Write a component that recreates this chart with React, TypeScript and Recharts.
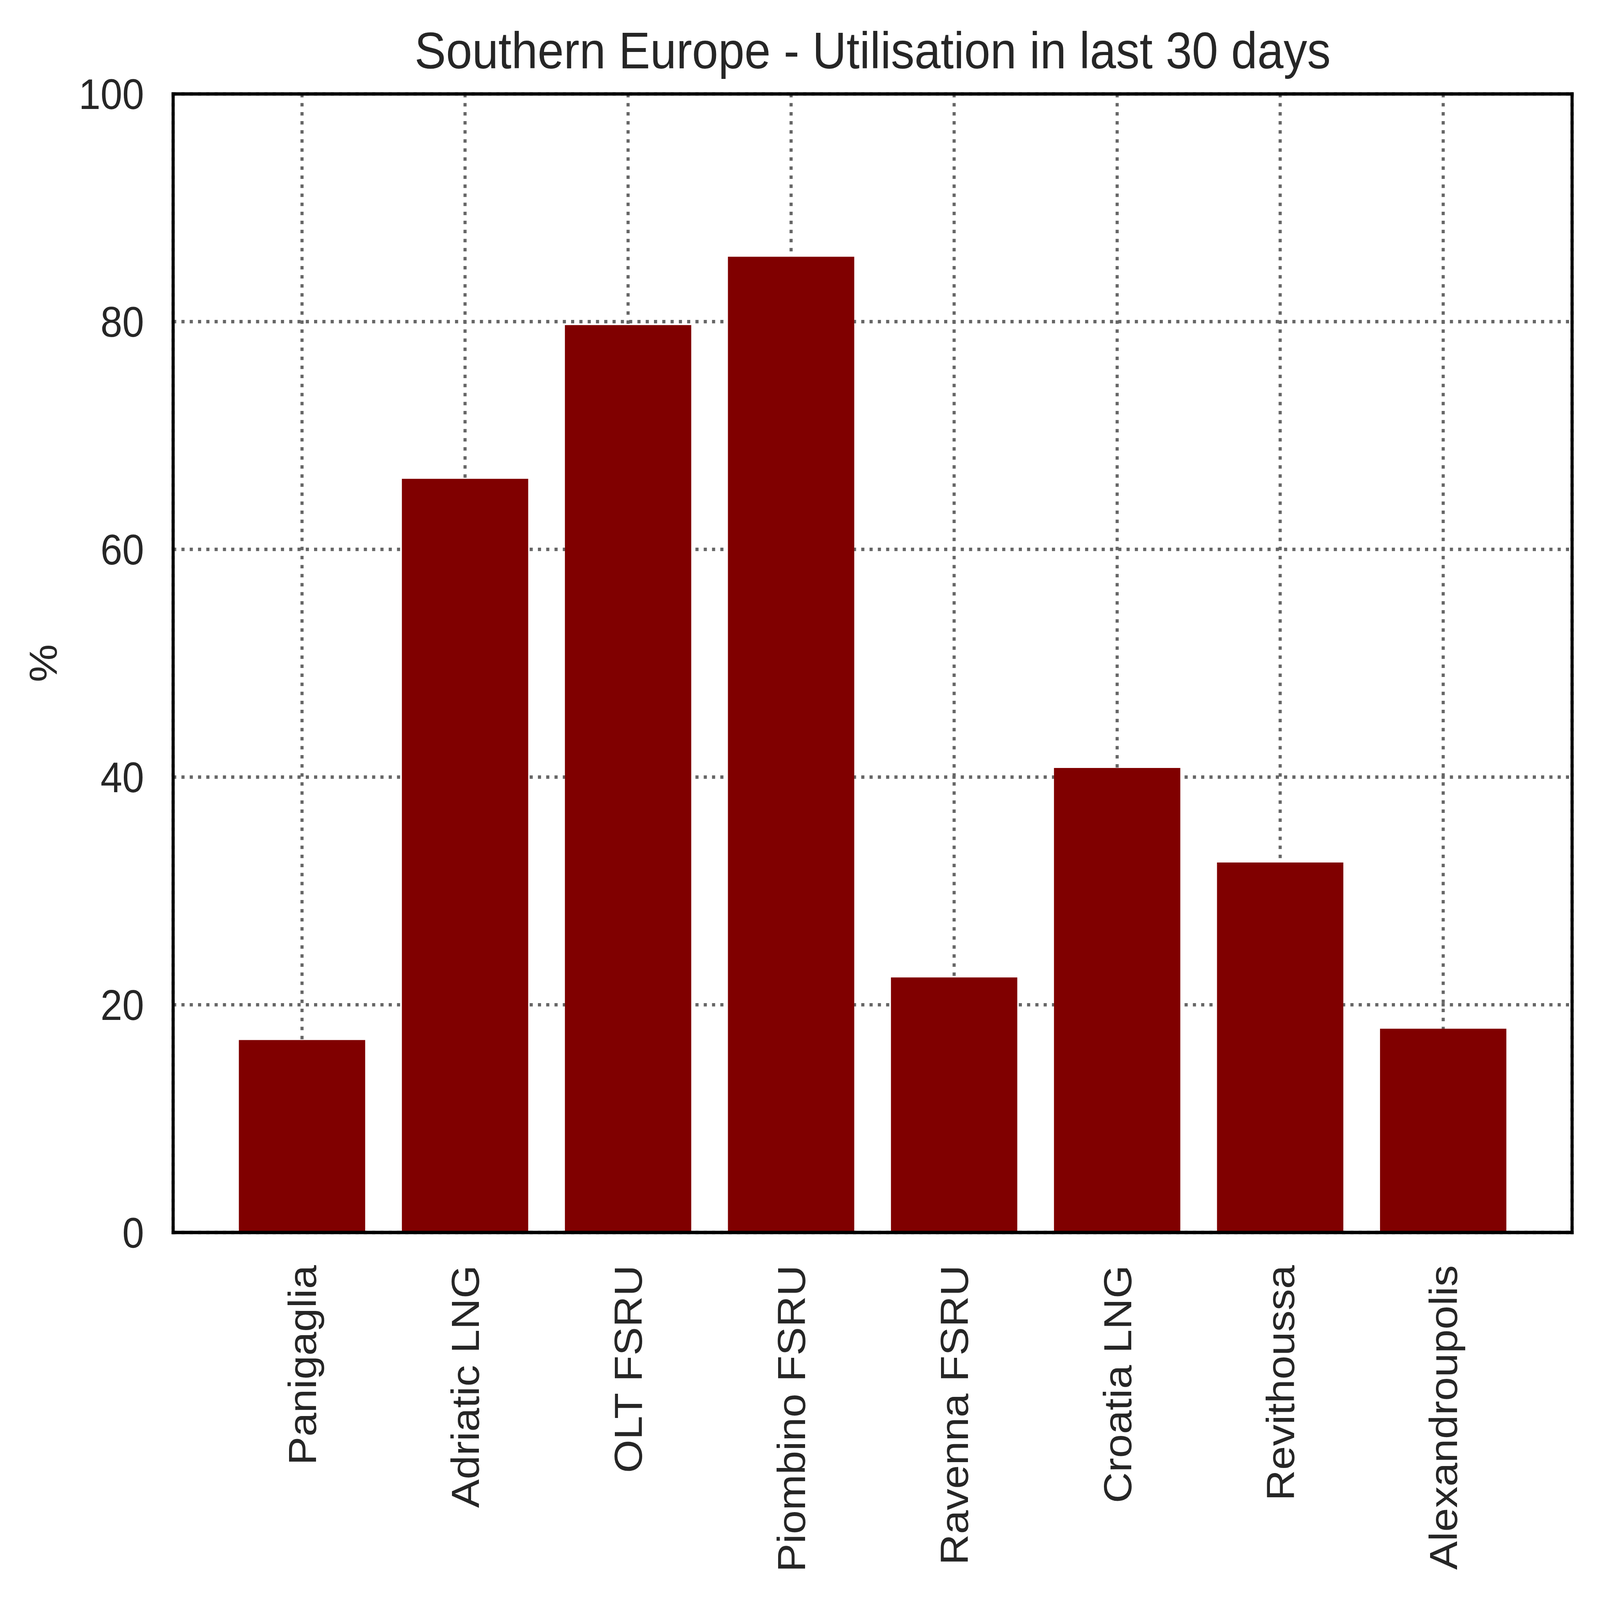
import { BarChart, Bar, XAxis, YAxis, CartesianGrid, Label } from 'recharts'

const terminals = [
  'Panigaglia',
  'Adriatic LNG',
  'OLT FSRU',
  'Piombino FSRU',
  'Ravenna FSRU',
  'Croatia LNG',
  'Revithoussa',
  'Alexandroupolis',
]
const utilisation = [16.9, 66.2, 79.7, 85.7, 22.4, 40.8, 32.5, 17.9]
const yTicks = [0, 20, 40, 60, 80, 100]

const data = terminals.map((name, i) => ({ name, value: utilisation[i] }))

const W = 5674
const H = 5194
// the photo only shows the top-left 4096px square, so fit the whole figure into it
const SHOT = 4096

const FONT = '"Liberation Sans", Arial, sans-serif'
const TEXT = '#262626'
const frame = { stroke: '#000', strokeWidth: 11, strokeLinecap: 'square' as const }

function RotatedTick({ x, y, payload }: any) {
  return (
    <text
      x={x}
      y={y}
      dy="0.355em"
      transform={`rotate(-90, ${x}, ${y})`}
      textAnchor="end"
      fill={TEXT}
      fontSize={139}
      fontFamily={FONT}
    >
      {payload.value}
    </text>
  )
}

function Title({ viewBox }: any) {
  const x = viewBox.x + viewBox.width / 2
  return (
    <text x={x} y={222} textAnchor="middle" fill={TEXT} fontSize={167} fontFamily={FONT}>
      Southern Europe - Utilisation in last 30 days
    </text>
  )
}

function YTitle({ viewBox }: any) {
  const x = viewBox.x + 152
  const y = viewBox.y + viewBox.height / 2
  return (
    <text
      x={x}
      y={y}
      dy="0.355em"
      transform={`rotate(-90, ${x}, ${y})`}
      textAnchor="middle"
      fill={TEXT}
      fontSize={139}
      fontFamily={FONT}
    >
      %
    </text>
  )
}

export default function App() {
  return (
    <div
      style={{
        position: 'absolute',
        left: 0,
        top: 0,
        width: W,
        height: H,
        background: '#fff',
        transform: `scale(${SHOT / W}, ${SHOT / H})`,
        transformOrigin: '0 0',
      }}
    >
      <BarChart
        width={W}
        height={H}
        data={data}
        margin={{ top: 304, right: 98, left: 0, bottom: 0 }}
        barCategoryGap="11.25%"
      >
        <CartesianGrid stroke="#666" strokeWidth={11} strokeDasharray="11.1 18.3" />
        <XAxis
          dataKey="name"
          height={1193}
          padding={{ left: 168, right: 168 }}
          axisLine={frame}
          tickLine={false}
          tickSize={0}
          tickMargin={106}
          interval={0}
          tick={<RotatedTick />}
        />
        <XAxis
          xAxisId="top"
          dataKey="name"
          orientation="top"
          height={1}
          padding={{ left: 168, right: 168 }}
          axisLine={frame}
          tick={false}
          tickLine={false}
        >
          <Label content={<Title />} />
        </XAxis>
        <YAxis
          width={614}
          domain={[0, 100]}
          ticks={yTicks}
          allowDataOverflow
          axisLine={frame}
          tickLine={false}
          tickSize={0}
          tickMargin={103}
          tick={{ fill: TEXT, fontSize: 139, fontFamily: FONT }}
        >
          <Label content={<YTitle />} />
        </YAxis>
        <YAxis
          yAxisId="right"
          orientation="right"
          width={1}
          domain={[0, 100]}
          axisLine={frame}
          tick={false}
          tickLine={false}
        />
        <Bar dataKey="value" fill="#800000" isAnimationActive={false} />
      </BarChart>
    </div>
  )
}
